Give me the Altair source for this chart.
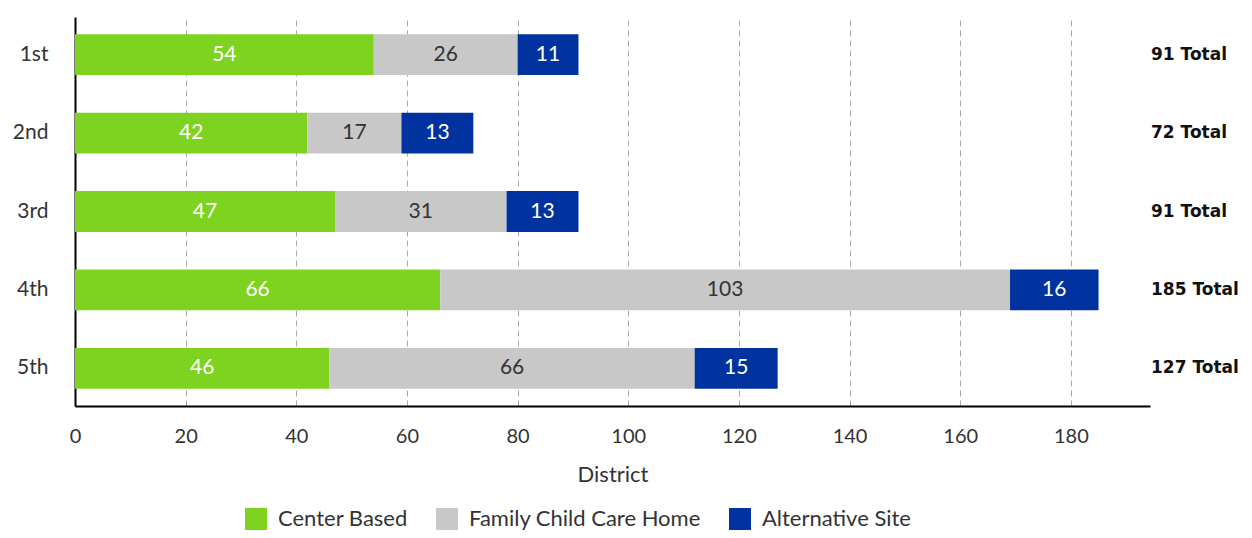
import altair as alt
import pandas as pd

districts = ["1st", "2nd", "3rd", "4th", "5th"]
series = ["Center Based", "Family Child Care Home", "Alternative Site"]
center_based = [54, 42, 47, 66, 46]
family_home = [26, 17, 31, 103, 66]
alternative = [11, 13, 13, 16, 15]
colors = ["#7ED321", "#C8C8C8", "#0033A0"]
label_colors = ["#FFFFFF", "#333333", "#FFFFFF"]

rows = []
for i, d in enumerate(districts):
    start = 0
    for j, (s, vals) in enumerate(zip(series, [center_based, family_home, alternative])):
        v = vals[i]
        rows.append({"District": d, "Type": s, "order": j, "value": v,
                     "start": start, "end": start + v, "mid": start + v / 2,
                     "lc": label_colors[j]})
        start += v
df = pd.DataFrame(rows)

totals = pd.DataFrame({
    "District": districts,
    "label": [f"{a + b + c} Total" for a, b, c in zip(center_based, family_home, alternative)],
})

FONT = "Lato"
W, H = 1075, 389

y_enc = alt.Y("District:N", sort=districts, title=None,
              scale=alt.Scale(paddingInner=0.48, paddingOuter=0.22),
              axis=alt.Axis(labelFontSize=21, labelColor="#333333", labelFont=FONT,
                            ticks=False, labelPadding=27, domainColor="#000000",
                            domainWidth=2, grid=False))

bars = alt.Chart(df).mark_bar().encode(
    x=alt.X("start:Q", title="District",
            scale=alt.Scale(domain=[0, 194.3], nice=False),
            axis=alt.Axis(values=list(range(0, 181, 20)), labelFontSize=20, labelFont=FONT,
                          labelColor="#333333", ticks=False, labelPadding=20,
                          labelFlush=False,
                          titleFontSize=22, titleFont=FONT, titleFontWeight="normal",
                          titleColor="#333333", titlePadding=18,
                          domainColor="#000000", domainWidth=2,
                          grid=True, gridDash=[6, 4], gridColor="#AAAAAA", gridWidth=1)),
    x2="end:Q",
    y=y_enc,
    color=alt.Color("Type:N", sort=series,
                    scale=alt.Scale(domain=series, range=colors),
                    legend=alt.Legend(title=None, orient="none", direction="horizontal",
                                      legendX=170, legendY=491, symbolType="square",
                                      symbolSize=484, symbolStrokeWidth=0, labelFontSize=22,
                                      labelFont=FONT, labelColor="#333333", labelLimit=400,
                                      columnPadding=28, labelOffset=11)),
    order="order:Q",
)

labels = alt.Chart(df).mark_text(fontSize=21, font=FONT).encode(
    x="mid:Q",
    y=alt.Y("District:N", sort=districts),
    text="value:Q",
    color=alt.Color("lc:N", scale=None),
)

tot = alt.Chart(totals).mark_text(fontSize=17, font="DejaVu Sans", fontWeight="bold",
                                  align="left", color="#111111").encode(
    x=alt.value(1076),
    y=alt.Y("District:N", sort=districts),
    text="label:N",
)

chart = alt.layer(bars, labels, tot).properties(
    width=W, height=H,
    autosize=alt.AutoSizeParams(type="none"),
    padding={"left": 67, "top": 9, "right": 94, "bottom": 124},
).configure(font=FONT).configure_view(stroke=None)

chart.save("out.html", embed_options={"renderer": "svg", "actions": False})
